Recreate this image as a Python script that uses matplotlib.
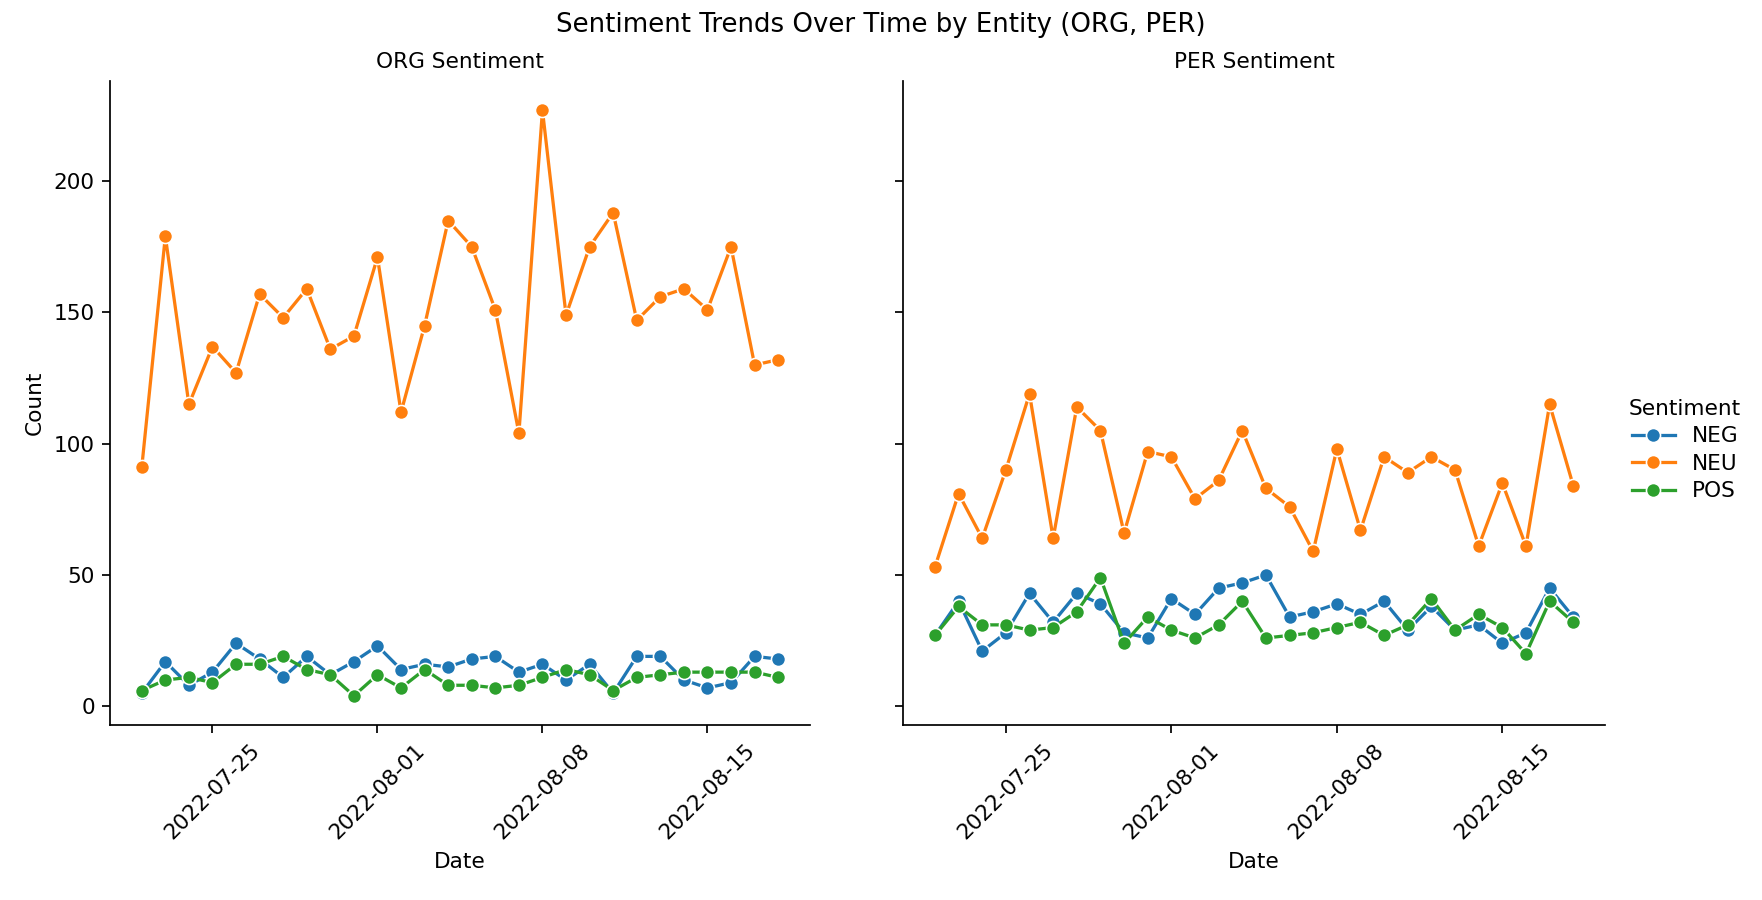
import numpy as np
import pandas as pd
import matplotlib
matplotlib.use("Agg")
import matplotlib.pyplot as plt
import matplotlib.dates as mdates
from matplotlib.lines import Line2D

dates = pd.date_range("2022-07-22", "2022-08-18", freq="D")

sentiments = ["NEG", "NEU", "POS"]
colors = {"NEG": "#1f77b4", "NEU": "#ff7f0e", "POS": "#2ca02c"}

org_neg = [5, 17, 8, 13, 24, 18, 11, 19, 12, 17, 23, 14, 16, 15,
           18, 19, 13, 16, 10, 16, 5, 19, 19, 10, 7, 9, 19, 18]
org_neu = [91, 179, 115, 137, 127, 157, 148, 159, 136, 141, 171, 112, 145, 185,
           175, 151, 104, 227, 149, 175, 188, 147, 156, 159, 151, 175, 130, 132]
org_pos = [6, 10, 11, 9, 16, 16, 19, 14, 12, 4, 12, 7, 14, 8,
           8, 7, 8, 11, 14, 12, 6, 11, 12, 13, 13, 13, 13, 11]

per_neg = [27, 40, 21, 28, 43, 32, 43, 39, 28, 26, 41, 35, 45, 47,
           50, 34, 36, 39, 35, 40, 29, 38, 29, 31, 24, 28, 45, 34]
per_neu = [53, 81, 64, 90, 119, 64, 114, 105, 66, 97, 95, 79, 86, 105,
           83, 76, 59, 98, 67, 95, 89, 95, 90, 61, 85, 61, 115, 84]
per_pos = [27, 38, 31, 31, 29, 30, 36, 49, 24, 34, 29, 26, 31, 40,
           26, 27, 28, 30, 32, 27, 31, 41, 29, 35, 30, 20, 40, 32]

panels = [
    ("ORG Sentiment", {"NEG": org_neg, "NEU": org_neu, "POS": org_pos}),
    ("PER Sentiment", {"NEG": per_neg, "NEU": per_neu, "POS": per_pos}),
]

fig = plt.figure(figsize=(1762 / 156, 900 / 156), dpi=156)
ax1 = fig.add_axes([0.0624, 0.1944, 0.3973, 0.7156])
ax2 = fig.add_axes([0.5125, 0.1944, 0.3985, 0.7156], sharey=ax1)

for ax, (title, series) in zip([ax1, ax2], panels):
    for s in sentiments:
        ax.plot(dates, series[s], '-o', color=colors[s], lw=1.5, ms=6.5,
                mec='white', mew=0.75, label=s)
    ax.set_title(title, fontsize=10)
    ax.set_xlabel("Date")
    ax.xaxis.set_major_locator(mdates.WeekdayLocator(byweekday=mdates.MO))
    ax.xaxis.set_major_formatter(mdates.DateFormatter("%Y-%m-%d"))
    for lab in ax.get_xticklabels():
        lab.set_rotation(45)
    ax.spines["top"].set_visible(False)
    ax.spines["right"].set_visible(False)

ax1.set_ylabel("Count")
ax1.set_yticks([0, 50, 100, 150, 200])
plt.setp(ax2.get_yticklabels(), visible=False)

handles = [Line2D([], [], color=colors[s], marker='o', lw=1.5, ms=6.5,
                  mec='white', mew=0.75) for s in sentiments]
fig.legend(handles, sentiments, title="Sentiment", frameon=False,
           loc="center left", bbox_to_anchor=(0.9135, 0.5), labelspacing=0.35)

fig.suptitle("Sentiment Trends Over Time by Entity (ORG, PER)", y=0.972,
             va="center", fontsize=12)

fig.savefig("out.png", dpi=156)
